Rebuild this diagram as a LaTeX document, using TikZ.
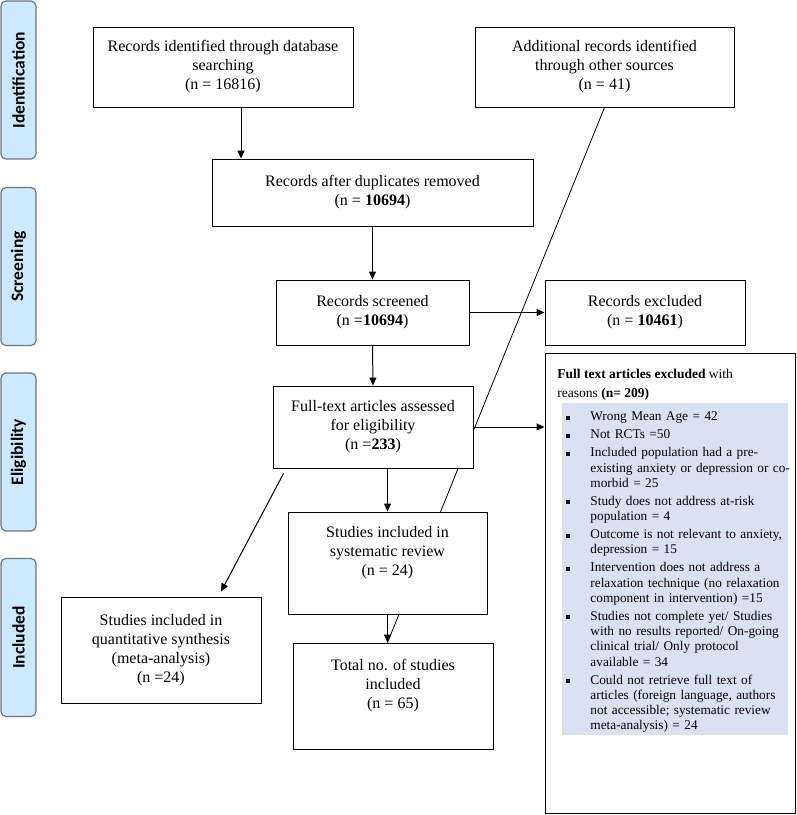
\documentclass[tikz,border=0pt]{standalone}
\usepackage{fontspec}
\setmainfont{Liberation Serif}
\newfontfamily\stagefont{Carlito}
\usetikzlibrary{arrows.meta,positioning,calc,backgrounds}
\definecolor{stagefill}{RGB}{205,233,252}
\definecolor{stageline}{RGB}{110,119,128}
\definecolor{listshade}{RGB}{217,226,243}
\newcommand{\sqbullet}{\rule[1pt]{4pt}{4pt}}

\begin{document}
\begin{tikzpicture}[x=1pt, y=-1pt, line width=0.9pt,
    font=\fontsize{16}{19}\selectfont,
    box/.style={draw, fill=white, align=center, inner sep=0pt},
    stage/.style={draw=stageline, fill=stagefill, rounded corners=5pt, line width=1.2pt,
      rotate=90, minimum width=158pt, minimum height=35pt, inner sep=0pt,
      font=\stagefont\bfseries\fontsize{17.5}{20}\selectfont},
    arr/.style={-{Triangle[length=8pt,width=7pt]}, line width=1pt}]
  \useasboundingbox (0,0) rectangle (797,815);
  % ---- stage labels down the left side
  \foreach \nm/\txt/\yy in {sid/Identification/80, ssc/Screening/266.5,
      sel/Eligibility/452, sin/Included/637.5}
    { \node[stage] (\nm) at (18.5,\yy) {\txt}; }
  % ---- identification
  \node[box, minimum width=260pt, minimum height=80pt] (ident) at (223,67)
    {Records identified through database\\ searching\\ (n = 16816)};
  \node[box, minimum width=259pt, minimum height=80pt] (add) at (604.5,67)
    {Additional records identified\\ through other sources\\ (n = 41)};
  % ---- screening
  \node[box, minimum width=321pt, minimum height=67pt] (dup) at (372.5,192.5)
    {Records after duplicates removed\\ (n = \textbf{10694})};
  \node[box, minimum width=193pt, minimum height=65pt] (scr) at (372.5,312.5)
    {Records screened\\ (n =\textbf{10694})};
  \node[box, minimum width=200pt, minimum height=65pt] (exc) at (645,312.5)
    {Records excluded\\ (n = \textbf{10461})};
  % ---- eligibility
  \node[box, minimum width=200pt, minimum height=82pt] (full) at (373,427)
    {Full-text articles assessed\\ for eligibility\\ (n =\textbf{233})};
  \node[box, minimum width=250pt, minimum height=460pt] (why) at (670,583) {};
  \node[anchor=north west, align=left, inner sep=0pt,
      font=\fontsize{13.5}{19}\selectfont] (whyhd) at (557,369)
    {\textbf{Full text articles excluded} with\\ reasons \textbf{(n= 209)}};
  \node[anchor=north west, fill=listshade, inner xsep=0pt, inner ysep=2pt,
      text width=226pt, font=\fontsize{13.3}{15.2}\selectfont] (whylist) at (562,403)
    {\begin{list}{\sqbullet}{\setlength{\leftmargin}{28pt}\setlength{\labelsep}{20pt}%
        \setlength{\labelwidth}{8pt}\setlength{\rightmargin}{-10pt}%
        \setlength{\itemsep}{2.9pt}\setlength{\topsep}{0pt}%
        \setlength{\parsep}{0pt}\setlength{\partopsep}{0pt}}\raggedright
      \item Wrong Mean Age = 42
      \item Not RCTs =50
      \item Included population had a pre-\newline existing anxiety or depression or co-\newline morbid = 25
      \item Study does not address at-risk\newline population = 4
      \item Outcome is not relevant to anxiety,\newline depression = 15
      \item Intervention does not address a\newline relaxation technique (no relaxation\newline component in intervention) =15
      \item Studies not complete yet/ Studies\newline with no results reported/ On-going\newline clinical trial/ Only protocol\newline available = 34
      \item Could not retrieve full text of\newline articles (foreign language, authors\newline not accessible; systematic review\newline meta-analysis) = 24
    \end{list}};
  % ---- included
  \node[box, minimum width=199pt, minimum height=102pt] (sys) at (387.5,563)
    {Studies included in\\ systematic review\\ (n = 24)\\ \strut};
  \node[box, minimum width=200pt, minimum height=106pt] (quant) at (161,650)
    {Studies included in\\ quantitative synthesis\\ (meta-analysis)\\ (n =24)};
  \node[box, minimum width=200pt, minimum height=106pt] (total) at (393,696)
    {Total no. of studies\\ included\\ (n = 65)\\ \strut};
  % ---- line from the other sources runs behind the boxes
  \begin{pgfonlayer}{background}
    \draw[line width=0.8pt] (add.south) -- (sys.south |- total.north);
  \end{pgfonlayer}
  % ---- arrows
  \draw[arr] ([xshift=18pt]ident.south) -- ([xshift=18pt]ident.south |- dup.north);
  \foreach \u/\v in {dup/scr, scr/full}
    { \draw[arr] (\u.south) -- (\v.north); }
  \draw[arr] (scr.east) -- (exc.west);
  \draw[arr] (full.east) -- (full.east -| why.west);
  \draw[arr] (sys.north |- full.south) -- (sys.north);
  \draw[arr] (sys.south) -- (sys.south |- total.north);
  \draw[arr] ([shift={(11,5)}]full.south west) -- ([shift={(60,-5)}]quant.north);
\end{tikzpicture}
\end{document}
